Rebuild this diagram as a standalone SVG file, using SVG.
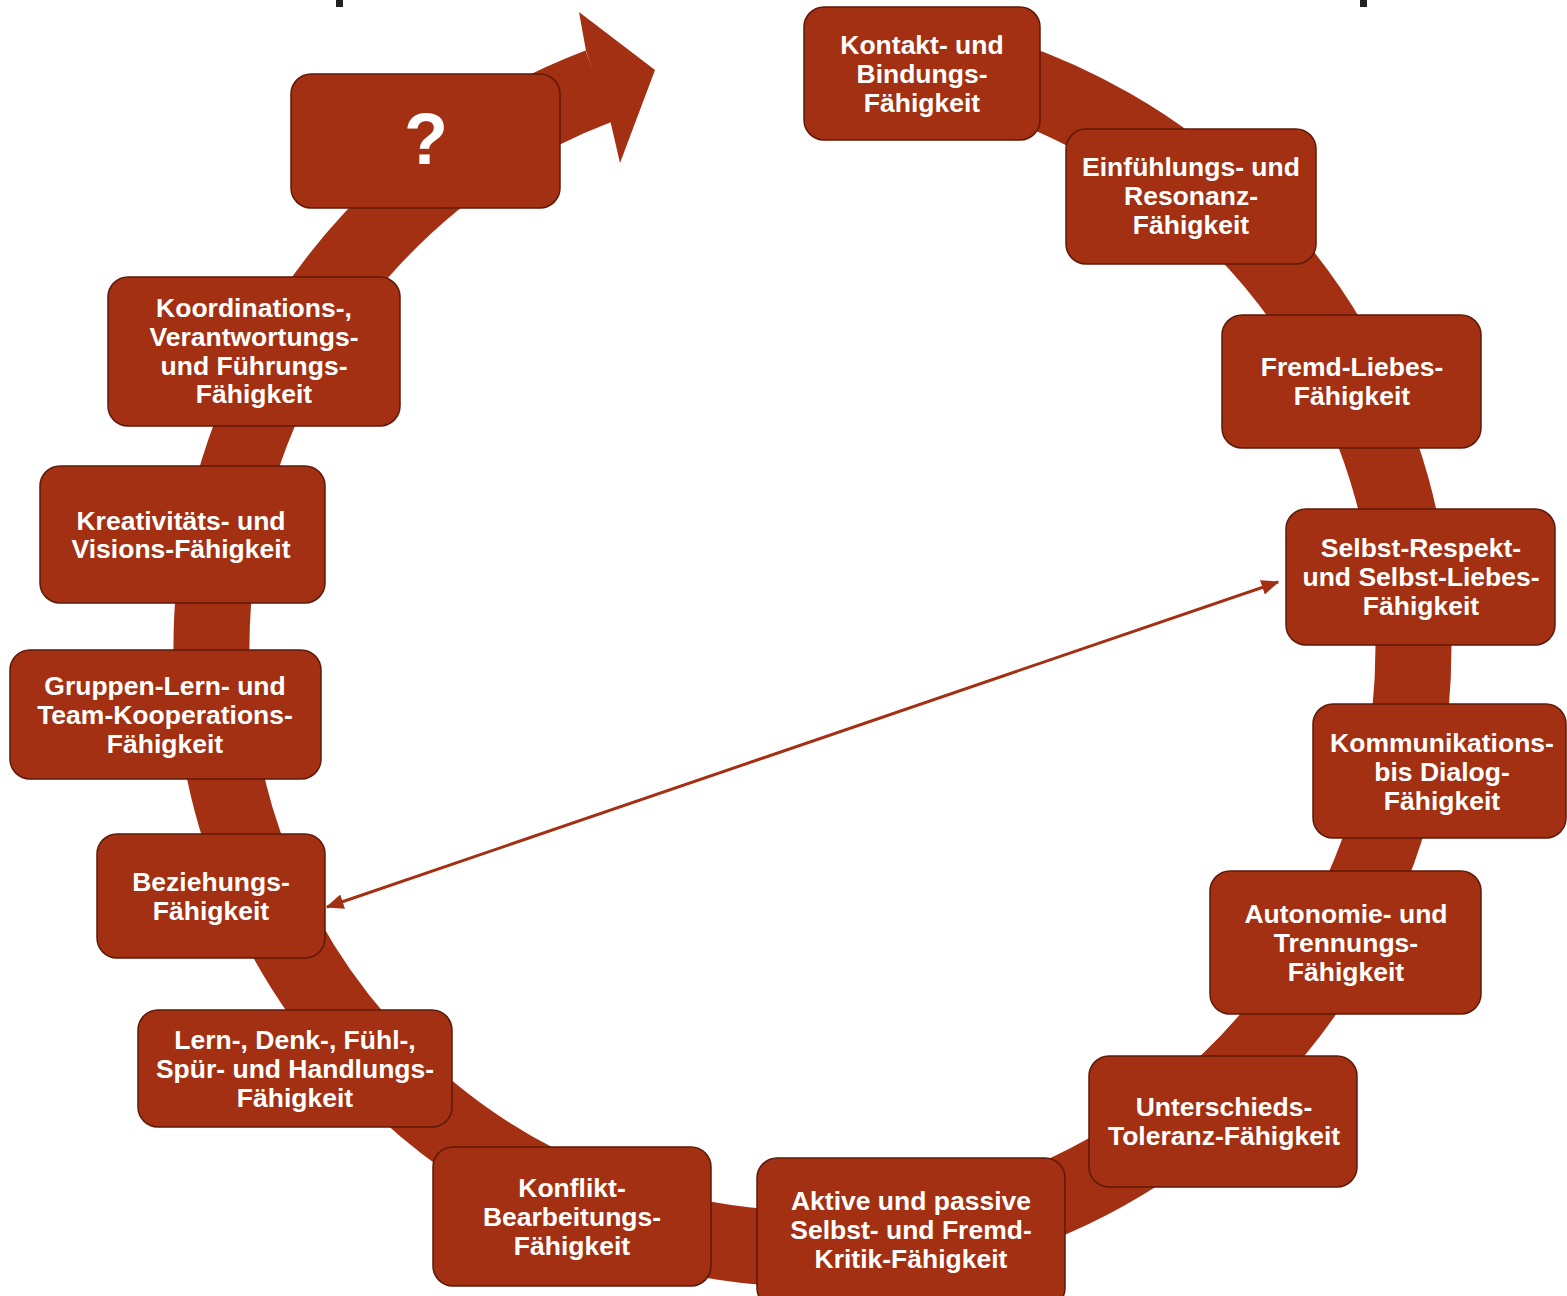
<svg xmlns="http://www.w3.org/2000/svg" width="1567" height="1296" viewBox="0 0 1567 1296">
  <style>
    .box { fill: #A33012; stroke: #5E1A08; stroke-width: 1.5; }
    .lbl { font-family: "Liberation Sans", Arial, sans-serif; font-weight: bold; font-size: 26.5px; fill: #FFFFFF; text-anchor: middle; }
    .band { fill: none; stroke: #A33012; stroke-width: 76; }
    .link { fill: none; stroke: #A33012; stroke-width: 3; }
  </style>
  <defs>
    <marker id="tip" viewBox="0 0 12 10" refX="11" refY="5" markerWidth="6" markerHeight="5" orient="auto-start-reverse" markerUnits="strokeWidth">
      <path d="M0,0 L12,5 L0,10 Z" fill="#A33012"/>
    </marker>
  </defs>

  <rect width="1567" height="1296" fill="#FFFFFF"/>

  <!-- fragments of a heading cut off at the top edge -->
  <rect x="336" y="0" width="7" height="7" fill="#222222"/>
  <rect x="1360" y="0" width="7" height="7" fill="#222222"/>

  <!-- circular band with arrowhead -->
  <g id="cycle">
    <path class="band" d="M 850 48 A 601 601 0 1 1 599 86"/>
    <polygon points="579,12 655,70 620,163 611,124 586,51" fill="#A33012"/>
  </g>

  <g id="node-question">
    <rect class="box" x="291" y="74" width="269" height="134" rx="20"/>
    <text class="lbl" x="426" y="164" style="font-size:72px">?</text>
  </g>

  <g id="node-kontakt">
    <rect class="box" x="804" y="7" width="236" height="133" rx="20"/>
    <text class="lbl" x="922" y="54">Kontakt- und</text>
    <text class="lbl" x="922" y="83">Bindungs-</text>
    <text class="lbl" x="922" y="112">Fähigkeit</text>
  </g>

  <g id="node-einfuehlung">
    <rect class="box" x="1066" y="129" width="250" height="135" rx="20"/>
    <text class="lbl" x="1191" y="176">Einfühlungs- und</text>
    <text class="lbl" x="1191" y="205">Resonanz-</text>
    <text class="lbl" x="1191" y="234">Fähigkeit</text>
  </g>

  <g id="node-fremdliebe">
    <rect class="box" x="1222" y="315" width="259" height="133" rx="20"/>
    <text class="lbl" x="1352" y="376">Fremd-Liebes-</text>
    <text class="lbl" x="1352" y="405">Fähigkeit</text>
  </g>

  <g id="node-selbstliebe">
    <rect class="box" x="1286" y="509" width="269" height="136" rx="20"/>
    <text class="lbl" x="1421" y="557">Selbst-Respekt-</text>
    <text class="lbl" x="1421" y="586">und Selbst-Liebes-</text>
    <text class="lbl" x="1421" y="615">Fähigkeit</text>
  </g>

  <g id="node-kommunikation">
    <rect class="box" x="1313" y="704" width="253" height="134" rx="20"/>
    <text class="lbl" x="1442" y="752">Kommunikations-</text>
    <text class="lbl" x="1442" y="781">bis Dialog-</text>
    <text class="lbl" x="1442" y="810">Fähigkeit</text>
  </g>

  <g id="node-autonomie">
    <rect class="box" x="1210" y="871" width="271" height="143" rx="20"/>
    <text class="lbl" x="1346" y="923">Autonomie- und</text>
    <text class="lbl" x="1346" y="952">Trennungs-</text>
    <text class="lbl" x="1346" y="981">Fähigkeit</text>
  </g>

  <g id="node-unterschied">
    <rect class="box" x="1089" y="1056" width="268" height="131" rx="20"/>
    <text class="lbl" x="1224" y="1116">Unterschieds-</text>
    <text class="lbl" x="1224" y="1145">Toleranz-Fähigkeit</text>
  </g>

  <g id="node-kritik">
    <rect class="box" x="757" y="1158" width="308" height="150" rx="20"/>
    <text class="lbl" x="911" y="1210">Aktive und passive</text>
    <text class="lbl" x="911" y="1239">Selbst- und Fremd-</text>
    <text class="lbl" x="911" y="1268">Kritik-Fähigkeit</text>
  </g>

  <g id="node-konflikt">
    <rect class="box" x="433" y="1147" width="278" height="139" rx="20"/>
    <text class="lbl" x="572" y="1197">Konflikt-</text>
    <text class="lbl" x="572" y="1226">Bearbeitungs-</text>
    <text class="lbl" x="572" y="1255">Fähigkeit</text>
  </g>

  <g id="node-lernen">
    <rect class="box" x="138" y="1010" width="314" height="117" rx="20"/>
    <text class="lbl" x="295" y="1049">Lern-, Denk-, Fühl-,</text>
    <text class="lbl" x="295" y="1078">Spür- und Handlungs-</text>
    <text class="lbl" x="295" y="1107">Fähigkeit</text>
  </g>

  <g id="node-beziehung">
    <rect class="box" x="97" y="834" width="228" height="124" rx="20"/>
    <text class="lbl" x="211" y="891">Beziehungs-</text>
    <text class="lbl" x="211" y="920">Fähigkeit</text>
  </g>

  <g id="node-gruppe">
    <rect class="box" x="10" y="650" width="311" height="129" rx="20"/>
    <text class="lbl" x="165" y="695">Gruppen-Lern- und</text>
    <text class="lbl" x="165" y="724">Team-Kooperations-</text>
    <text class="lbl" x="165" y="753">Fähigkeit</text>
  </g>

  <g id="node-kreativitaet">
    <rect class="box" x="40" y="466" width="285" height="137" rx="20"/>
    <text class="lbl" x="181" y="530">Kreativitäts- und</text>
    <text class="lbl" x="181" y="558">Visions-Fähigkeit</text>
  </g>

  <g id="node-fuehrung">
    <rect class="box" x="108" y="277" width="292" height="149" rx="20"/>
    <text class="lbl" x="254" y="317">Koordinations-,</text>
    <text class="lbl" x="254" y="346">Verantwortungs-</text>
    <text class="lbl" x="254" y="375">und Führungs-</text>
    <text class="lbl" x="254" y="403">Fähigkeit</text>
  </g>

  <!-- connectors -->
  <g id="connectors">
    <line class="link" x1="1278" y1="582" x2="327" y2="907" marker-start="url(#tip)" marker-end="url(#tip)"/>
  </g>
</svg>
